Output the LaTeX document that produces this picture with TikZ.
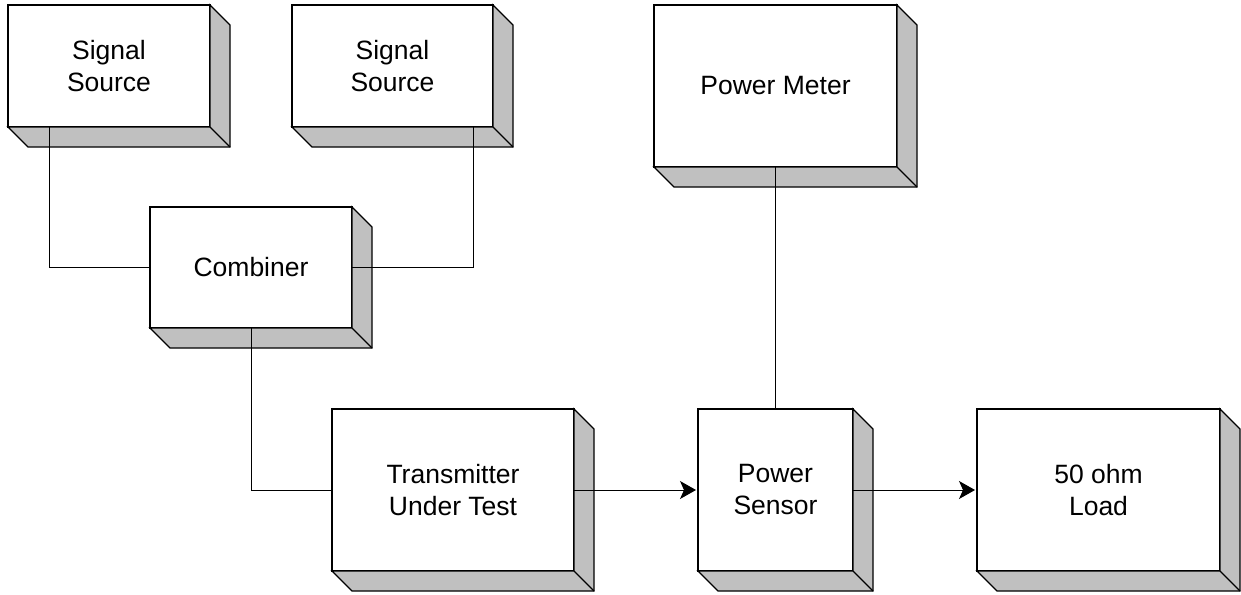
\documentclass[tikz,border=0pt]{standalone}
\usepackage{fontspec}
\setmainfont{Liberation Sans}
\usetikzlibrary{calc,arrows.meta}
\definecolor{sidegray}{HTML}{C0C0C0}
\tikzset{
  frontbox/.style={draw=black, fill=white, line width=1.3pt, outer sep=0pt, inner sep=0pt,
    align=center, font=\fontsize{26.5}{32}\selectfont},
  sideface/.style={draw=black, fill=sidegray, line width=1.3pt, line join=miter},
  conn/.style={draw=black, line width=1pt},
  arrowconn/.style={conn, -{Stealth[length=16pt,width=18pt,inset=4pt]}, shorten >=2pt}
}
\newcommand\depthfaces[1]{%
  \draw[sideface] (#1.north east) -- ($(#1.north east)+(20,20)$) -- ($(#1.south east)+(20,20)$)
    -- ($(#1.south west)+(20,20)$) -- (#1.south west) -- (#1.south east) -- cycle;
  \draw[sideface, fill=none] (#1.south east) -- ($(#1.south east)+(20,20)$);}
\begin{document}
\begin{tikzpicture}[x=1pt,y=-1pt]
\useasboundingbox[fill=white] (0,0) rectangle (1241,594);
\node[frontbox, minimum width=202pt, minimum height=122pt] (ss1) at (109,66) {Signal\\Source};
\node[frontbox, minimum width=201pt, minimum height=122pt] (ss2) at (392.5,66) {Signal\\Source};
\node[frontbox, minimum width=243pt, minimum height=162pt] (pm) at (775.5,86) {Power Meter};
\node[frontbox, minimum width=202pt, minimum height=121pt] (comb) at (251,267.5) {Combiner};
\node[frontbox, minimum width=242pt, minimum height=162pt] (tx) at (453,490) {Transmitter\\Under Test};
\node[frontbox, minimum width=155pt, minimum height=162pt] (ps) at (775.5,490) {Power\\Sensor};
\node[frontbox, minimum width=243pt, minimum height=162pt] (load) at (1098.5,490) {50 ohm\\Load};
\depthfaces{ss1}
\depthfaces{ss2}
\depthfaces{pm}
\depthfaces{comb}
\depthfaces{tx}
\depthfaces{ps}
\depthfaces{load}
\draw[conn] ([xshift=41pt]ss1.south west) |- (comb.west);
\draw[conn] ([xshift=-20pt]ss2.south east) |- (comb.east);
\draw[conn] (comb.south) |- (tx.west);
\draw[conn] (pm.south) -- (ps.north);
\draw[arrowconn] (tx.east) -- (ps.west);
\draw[arrowconn] (ps.east) -- (load.west);
\end{tikzpicture}
\end{document}
